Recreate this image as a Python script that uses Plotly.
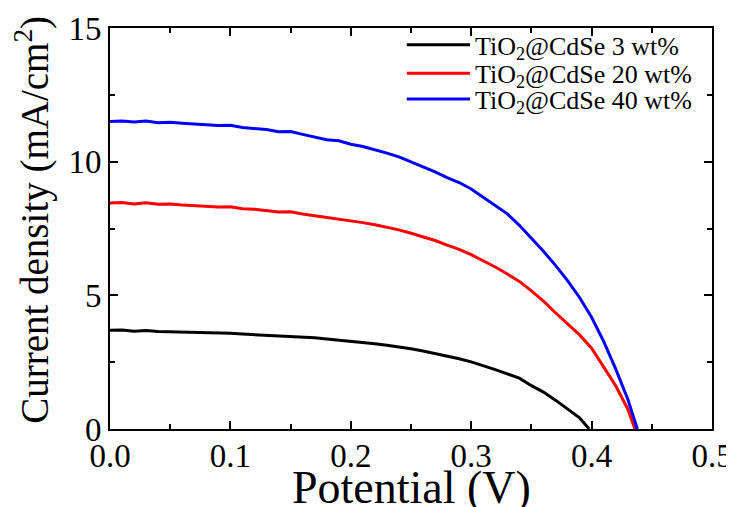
import plotly.graph_objects as go

potential_3 = [0.00,0.01,0.02,0.03,0.04,0.05,0.06,0.07,0.08,0.09,0.10,0.11,0.12,0.13,0.14,0.15,0.16,0.17,0.18,0.19,0.20,
               0.21,0.22,0.23,0.24,0.25,0.26,0.27,0.28,0.29,0.30,0.31,0.32,0.33,0.34,0.35,0.36,0.37,0.38,0.39,0.398]
current_3 = [3.69,3.70,3.66,3.68,3.65,3.64,3.63,3.61,3.60,3.58,3.58,3.55,3.53,3.50,3.48,3.46,3.43,3.41,3.37,3.33,3.29,
             3.24,3.19,3.13,3.07,3.00,2.92,2.83,2.73,2.63,2.51,2.37,2.22,2.06,1.90,1.62,1.38,1.08,0.76,0.42,0.0]

potential_20 = [0.00,0.01,0.02,0.03,0.04,0.05,0.06,0.07,0.08,0.09,0.10,0.11,0.12,0.13,0.14,0.15,0.16,0.17,0.18,0.19,0.20,
                0.21,0.22,0.23,0.24,0.25,0.26,0.27,0.28,0.29,0.30,0.31,0.32,0.33,0.34,0.35,0.36,0.37,0.38,0.39,0.40,
                0.41,0.42,0.43,0.436]
current_20 = [8.45,8.47,8.42,8.46,8.41,8.42,8.38,8.36,8.33,8.30,8.31,8.24,8.22,8.17,8.12,8.13,8.04,7.98,7.92,7.86,7.80,
              7.72,7.64,7.55,7.45,7.32,7.18,7.05,6.88,6.72,6.52,6.30,6.06,5.80,5.52,5.17,4.78,4.35,3.92,3.52,3.02,
              2.30,1.62,0.75,0.0]

potential_40 = [0.00,0.01,0.02,0.03,0.04,0.05,0.06,0.07,0.08,0.09,0.10,0.11,0.12,0.13,0.14,0.15,0.16,0.17,0.18,0.19,0.20,
                0.21,0.22,0.23,0.24,0.25,0.26,0.27,0.28,0.29,0.30,0.31,0.32,0.33,0.34,0.35,0.36,0.37,0.38,0.39,0.40,
                0.41,0.42,0.43,0.438]
current_40 = [11.50,11.52,11.48,11.52,11.46,11.47,11.44,11.42,11.38,11.35,11.36,11.28,11.25,11.20,11.12,11.13,11.02,10.93,10.82,10.78,10.65,
              10.57,10.45,10.32,10.18,10.00,9.82,9.62,9.40,9.22,8.98,8.68,8.35,8.05,7.62,7.15,6.65,6.12,5.55,4.92,4.18,
              3.28,2.25,1.12,0.0]

series_names = ["TiO<sub>2</sub>@CdSe 3 wt%", "TiO<sub>2</sub>@CdSe 20 wt%", "TiO<sub>2</sub>@CdSe 40 wt%"]
series_colors = ["#000000", "#ff0000", "#0000ff"]
x_title = "Potential (V)"
y_title = "Current density (mA/cm<sup>2</sup>)"

FONT = "Liberation Serif"

fig = go.Figure()
for xs, ys, name, color in zip([potential_3, potential_20, potential_40],
                               [current_3, current_20, current_40],
                               series_names, series_colors):
    fig.add_trace(go.Scatter(x=xs, y=ys, mode="lines", name=name, showlegend=False,
                             line=dict(color=color, width=3)))

# legend drawn as short line samples + labels (paper coordinates)
legend_rows_y = [0.958, 0.887, 0.823]
for yy, name, color in zip(legend_rows_y, series_names, series_colors):
    fig.add_shape(type="line", xref="paper", yref="paper", x0=0.493, x1=0.598, y0=yy, y1=yy,
                  line=dict(color=color, width=3))
    fig.add_annotation(xref="paper", yref="paper", x=0.603, y=yy, text=name, showarrow=False,
                       xanchor="left", yanchor="middle", yshift=-3,
                       font=dict(family=FONT, size=26, color="black"))

# axis titles as annotations for exact placement
fig.add_annotation(xref="paper", yref="paper", x=0.5, y=-0.145, text=x_title, showarrow=False,
                   xanchor="center", yanchor="middle", font=dict(family=FONT, size=46, color="black"))
fig.add_annotation(xref="paper", yref="paper", x=-0.13, y=0.521, text=y_title, showarrow=False,
                   textangle=-90, xanchor="center", yanchor="middle",
                   font=dict(family=FONT, size=39, color="black"))

axis_common = dict(
    showline=True, linecolor="black", linewidth=2, mirror="allticks",
    ticks="inside", ticklen=8, tickwidth=2, tickcolor="black",
    showgrid=False, zeroline=False, automargin=False, ticklabeloverflow="allow",
    tickfont=dict(family=FONT, size=33, color="black"),
)

# the page body has an 8px margin, so the figure is sized to end at the window edge
fig.update_layout(
    width=726, height=499,
    margin=dict(l=102, r=22, t=20, b=78),
    paper_bgcolor="white", plot_bgcolor="white",
    font=dict(family=FONT, color="black"),
    showlegend=False,
    xaxis=dict(range=[0, 0.5], dtick=0.1, tick0=0, tickformat=".1f", ticklabelstandoff=-4,
               minor=dict(ticks="inside", dtick=0.05, ticklen=5, tickwidth=2, tickcolor="black"),
               **axis_common),
    yaxis=dict(range=[0, 15], dtick=5, tick0=0,
               minor=dict(ticks="inside", dtick=2.5, ticklen=5, tickwidth=2, tickcolor="black"),
               **axis_common),
)

fig.write_html("out.html")
